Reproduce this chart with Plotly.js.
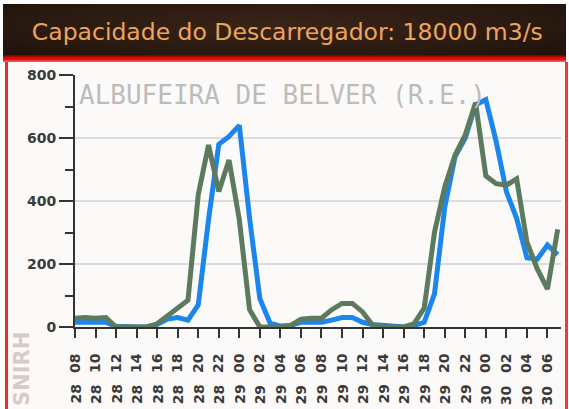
<!DOCTYPE html>
<html>
<head>
<meta charset="utf-8">
<script src="https://cdn.plot.ly/plotly-3.0.1.min.js"></script>
<style>
  html, body { margin: 0; padding: 0; background: #ffffff; }
  #wrap { position: relative; width: 569px; height: 409px; overflow: hidden; background: #ffffff; }
  #header { position: absolute; left: 3px; top: 4px; width: 563px; height: 53px;
    background: radial-gradient(ellipse at 50% 40%, #3a2418 0%, #2a1a11 60%, #1e120b 100%); }
  #redline { position: absolute; left: 3px; top: 55px; width: 563px; height: 7px;
    background: linear-gradient(#5a0a05 0%, #d00a0a 35%, #f01010 65%, #f27070 100%); }
  #panel { position: absolute; left: 5px; top: 62px; width: 557px; height: 347px;
    background: #fcfaf8; border-left: 3px solid #ee2a2a; border-right: 3px solid #ee3a3a; }
  #chart { position: absolute; left: 0; top: 0; width: 569px; height: 409px; }
</style>
</head>
<body>
<div id="wrap">
  <div id="header"></div>
  <div id="redline"></div>
  <div id="panel"></div>
  <div id="chart"></div>
</div>
<script>
// hourly timestamps (day hour), from 28 08h to 30 07h
const times = [
  '28 08','28 09','28 10','28 11','28 12','28 13','28 14','28 15','28 16','28 17','28 18','28 19',
  '28 20','28 21','28 22','28 23','29 00','29 01','29 02','29 03','29 04','29 05','29 06','29 07',
  '29 08','29 09','29 10','29 11','29 12','29 13','29 14','29 15','29 16','29 17','29 18','29 19',
  '29 20','29 21','29 22','29 23','30 00','30 01','30 02','30 03','30 04','30 05','30 06','30 07'
];
// blue series (m3/s)
const seriesBlue = [
  15,15,15,15,2,0,0,0,8,25,30,22,
  70,340,580,605,640,345,90,12,3,5,15,15,
  15,22,30,30,15,8,5,0,0,5,15,105,
  380,540,600,705,722,590,430,345,220,215,260,230
];
// grey-green series (m3/s)
const seriesGreen = [
  28,30,28,30,0,0,0,0,10,35,60,85,
  420,578,430,530,340,55,0,0,0,5,25,28,
  28,55,75,75,48,5,0,0,0,10,60,300,
  445,545,610,712,480,455,450,470,270,185,120,310
];
// tick labels
const tickTimes = ['28 08','28 10','28 12','28 14','28 16','28 18','28 20','28 22','29 00','29 02','29 04','29 06',
  '29 08','29 10','29 12','29 14','29 16','29 18','29 20','29 22','30 00','30 02','30 04','30 06'];
const hourLabels = ['08','10','12','14','16','18','20','22','00','02','04','06',
  '08','10','12','14','16','18','20','22','00','02','04','06'];
const dayLabels = ['28','28','28','28','28','28','28','28','29','29','29','29',
  '29','29','29','29','29','29','29','29','30','30','30','30'];
const yTicks = [0, 200, 400, 600, 800];
const yMinorTicks = [100, 300, 500, 700];
const titleText = 'Capacidade do Descarregador: 18000 m3/s';
const stationText = 'ALBUFEIRA DE BELVER (R.E.)';
const sourceText = 'SNIRH';

const labelFont = { family: 'DejaVu Sans', size: 14, color: '#3a3a3a', weight: 'bold' };

const traces = [
  { x: times, y: seriesBlue, type: 'scatter', mode: 'lines',
    line: { color: '#1a86ee', width: 5 }, hoverinfo: 'skip', showlegend: false },
  { x: times, y: seriesGreen, type: 'scatter', mode: 'lines',
    line: { color: '#5c7a5e', width: 5 }, hoverinfo: 'skip', showlegend: false }
];

const annotations = dayLabels.map((d, i) => ({
  x: tickTimes[i], xref: 'x', y: 0, yref: 'paper', yanchor: 'top', xanchor: 'center',
  yshift: -56, text: d, textangle: -90, showarrow: false, font: labelFont
}));
annotations.push({
  x: 0, xref: 'paper', xanchor: 'left', xshift: 2,
  y: 0.921, yref: 'paper', yanchor: 'middle',
  text: stationText, showarrow: false,
  font: { family: 'DejaVu Sans Mono', size: 26, color: '#bcbcbc' }
});
annotations.push({
  x: -0.109, xref: 'paper', xanchor: 'center',
  y: -0.012, yref: 'paper', yanchor: 'top',
  text: sourceText, textangle: -90, showarrow: false,
  font: { family: 'DejaVu Sans', size: 21, color: '#d9c9c9', weight: 'bold' }
});

const layout = {
  width: 569, height: 409,
  margin: { l: 75, r: 8, t: 75, b: 82, pad: 0 },
  paper_bgcolor: 'rgba(0,0,0,0)', plot_bgcolor: 'rgba(0,0,0,0)',
  title: { text: titleText, xref: 'container', x: 0.505, xanchor: 'center',
    yref: 'container', y: 1 - 32 / 409, yanchor: 'middle',
    font: { family: 'DejaVu Sans', size: 23.5, color: '#eea55b' } },
  xaxis: {
    type: 'category', categoryorder: 'array', categoryarray: times,
    range: [0, 47.32], showgrid: false, zeroline: false,
    showline: true, linecolor: '#333333', linewidth: 2,
    ticks: 'outside', ticklen: 9, tickwidth: 2, tickcolor: '#333333',
    tickmode: 'array', tickvals: tickTimes, ticktext: hourLabels,
    tickangle: -90, tickfont: labelFont, ticklabelstandoff: 10
  },
  yaxis: {
    range: [0, 800], tickmode: 'array', tickvals: yTicks, ticktext: yTicks.map(String),
    showgrid: true, gridcolor: '#dcdcdc', gridwidth: 2, zeroline: false,
    showline: true, linecolor: '#333333', linewidth: 2,
    ticks: 'outside', ticklen: 14, tickwidth: 2, tickcolor: '#333333',
    tickfont: labelFont,
    minor: { tickmode: 'array', tickvals: yMinorTicks, ticks: 'outside', ticklen: 8,
      tickwidth: 2, tickcolor: '#333333', showgrid: false }
  },
  annotations: annotations
};

Plotly.newPlot('chart', traces, layout, { staticPlot: true, displayModeBar: false });
</script>
</body>
</html>
